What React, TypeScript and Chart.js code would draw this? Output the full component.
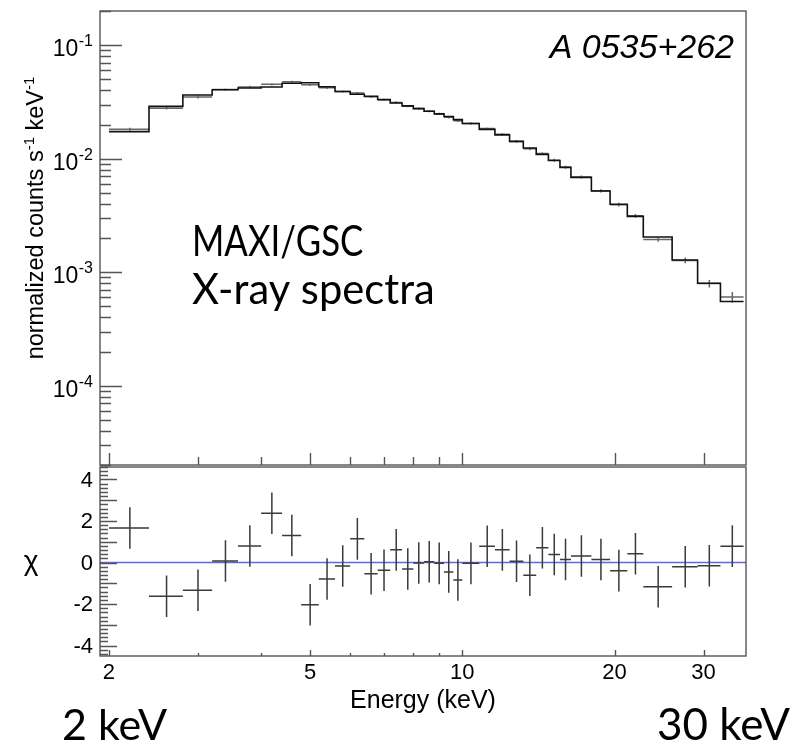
import React, { useEffect, useRef } from "react";
import { Chart, registerables } from "chart.js";
Chart.register(...registerables);

const W = 796;
const H = 748;

// Energy bin edges (keV)
const binEdges = [
  2.0, 2.4, 2.8, 3.2, 3.6, 4.0, 4.4, 4.8, 5.2, 5.6,
  6.0, 6.4, 6.8, 7.2, 7.6, 8.0, 8.4, 8.8, 9.2, 9.6,
  10.0, 10.8, 11.6, 12.4, 13.2, 14.0, 14.8, 15.6, 16.4, 18.0,
  19.6, 21.2, 22.8, 26.0, 29.2, 32.4, 36.0,
];

// Model (folded) counts per bin, normalized counts s^-1 keV^-1
const modelCounts = [
  0.0173, 0.0289, 0.0364, 0.0405, 0.0420, 0.0428, 0.0462, 0.0466, 0.0430, 0.0391,
  0.0369, 0.0355, 0.0332, 0.0309, 0.0292, 0.0276, 0.0262, 0.0248, 0.0235, 0.0221,
  0.0204, 0.0181, 0.0162, 0.0142, 0.0124, 0.0109, 0.00963, 0.00838, 0.00684, 0.00519,
  0.00397, 0.00310, 0.00204, 0.00128, 0.000798, 0.000552,
];

// Observed counts per bin
const dataCounts = [
  0.0182, 0.0278, 0.0350, 0.0406, 0.0428, 0.0452, 0.0475, 0.0447, 0.0422, 0.0390,
  0.0378, 0.0351, 0.0329, 0.0313, 0.0290, 0.0276, 0.0262, 0.0248, 0.0232, 0.0216,
  0.0204, 0.0184, 0.0164, 0.0142, 0.0122, 0.0111, 0.00970, 0.00840, 0.00690, 0.00521,
  0.00393, 0.00314, 0.00194, 0.00127, 0.000794, 0.000604,
];

const dataErrors = [
  0.00054, 0.00070, 0.00105, 0.00100, 0.00100, 0.00100, 0.00100, 0.00095, 0.00100, 0.00090,
  0.00085, 0.00080, 0.00075, 0.00070, 0.00068, 0.00064, 0.00062, 0.00060, 0.00058, 0.00056,
  0.00050, 0.00046, 0.00042, 0.00038, 0.00034, 0.00031, 0.00029, 0.00026, 0.00020, 0.00017,
  0.00015, 0.00012, 0.000085, 0.000070, 0.000060, 0.000066,
];

// Residuals (chi)
const chiValues = [
  1.66, -1.62, -1.33, 0.07, 0.80, 2.37, 1.30, -2.03, -0.79, -0.17,
  1.14, -0.54, -0.37, 0.61, -0.31, -0.02, 0.04, -0.04, -0.45, -0.84,
  -0.04, 0.78, 0.61, 0.06, -0.61, 0.71, 0.39, 0.15, 0.31, 0.15,
  -0.39, 0.42, -1.17, -0.20, -0.15, 0.79,
];
const chiErrors = [
  1, 1, 1, 1, 1, 1, 1, 1, 1, 1,
  1, 1, 1, 1, 1, 1, 1, 1, 1, 1,
  1, 1, 1, 1, 1, 1, 1, 1, 1, 1,
  1, 1, 1, 1, 1, 1,
];

const energyTicks = [2, 3, 4, 5, 6, 7, 8, 9, 10, 20, 30];
const energyLabelValues = [2, 5, 10, 20, 30];
const energyLabels = ["2", "5", "10", "20", "30"];
const countDecades = [1e-4, 1e-3, 1e-2, 1e-1];
const countDecadeExps = ["-4", "-3", "-2", "-1"];
const chiLabelValues = [4, 2, 0, -2, -4];
const chiLabels = ["4", "2", "0", "-2", "-4"];

const xMin = 1.92;
const xMax = 36.4;
const yTopMin = 2e-5;
const yTopMax = 0.2;
const chiMin = -4.5;
const chiMax = 4.6;

const AXFONT = '"Liberation Sans", Arial, Helvetica, sans-serif';
const BIGFONT = 'Lato, "Open Sans", sans-serif';
const FRAME = "#555";

function drawCrosses(ctx: CanvasRenderingContext2D, xs: any, ys: any, vals: number[], errs: number[]) {
  for (let i = 0; i < vals.length; i++) {
    const x1 = xs.getPixelForValue(binEdges[i]);
    const x2 = xs.getPixelForValue(binEdges[i + 1]);
    const xc = xs.getPixelForValue((binEdges[i] + binEdges[i + 1]) / 2);
    const yc = ys.getPixelForValue(vals[i]);
    const yl = ys.getPixelForValue(vals[i] - errs[i]);
    const yh = ys.getPixelForValue(vals[i] + errs[i]);
    ctx.beginPath();
    ctx.moveTo(x1, yc);
    ctx.lineTo(x2, yc);
    ctx.moveTo(xc, yl);
    ctx.lineTo(xc, yh);
    ctx.stroke();
  }
}

function fillScaledText(ctx: CanvasRenderingContext2D, text: string, x: number, y: number, sx: number) {
  ctx.save();
  ctx.translate(x, y);
  ctx.scale(sx, 1);
  ctx.fillText(text, 0, 0);
  ctx.restore();
}

const topPlugin = {
  id: "topDeco",
  beforeDatasetsDraw(chart: any) {
    const { ctx, chartArea: a, scales } = chart;
    ctx.save();
    ctx.beginPath();
    ctx.rect(a.left, a.top, a.right - a.left, a.bottom - a.top);
    ctx.clip();
    ctx.strokeStyle = "#666";
    ctx.lineWidth = 1.5;
    drawCrosses(ctx, scales.x, scales.y, dataCounts, dataErrors);
    ctx.restore();
  },
  afterDraw(chart: any) {
    const { ctx, chartArea: a, scales } = chart;
    const xs = scales.x;
    const ys = scales.y;
    ctx.save();
    // frame
    ctx.strokeStyle = FRAME;
    ctx.lineWidth = 1.4;
    ctx.strokeRect(a.left, a.top, a.right - a.left, a.bottom - a.top);
    // y ticks (log)
    ctx.beginPath();
    for (let d = 1e-5; d < 1; d *= 10) {
      for (let m = 1; m <= 9; m++) {
        const v = m * d;
        if (v < yTopMin || v > yTopMax) continue;
        const y = Math.round(ys.getPixelForValue(v)) + 0.5;
        const len = m === 1 ? 22 : 11;
        ctx.moveTo(a.left, y);
        ctx.lineTo(a.left + len, y);
      }
    }
    // x ticks at bottom of top panel
    for (const e of energyTicks) {
      const x = Math.round(xs.getPixelForValue(e)) + 0.5;
      const len = energyLabelValues.includes(e) ? 12 : 8;
      ctx.moveTo(x, a.bottom);
      ctx.lineTo(x, a.bottom - len);
    }
    ctx.stroke();

    // y tick labels 10^n
    ctx.fillStyle = "#000";
    ctx.textBaseline = "alphabetic";
    countDecades.forEach((v, i) => {
      const y = ys.getPixelForValue(v);
      ctx.font = `16px ${AXFONT}`;
      ctx.textAlign = "right";
      const sw = ctx.measureText(countDecadeExps[i]).width;
      ctx.fillText(countDecadeExps[i], 93, y + 1);
      ctx.font = `23px ${AXFONT}`;
      ctx.fillText("10", 93 - sw - 0.5, y + 11);
    });

    // y title with superscripts
    ctx.save();
    ctx.translate(43, 218);
    ctx.rotate(-Math.PI / 2);
    const parts: [string, number, number][] = [
      ["normalized counts s", 23.5, 0],
      ["-1", 15, -9],
      [" keV", 23.5, 0],
      ["-1", 15, -9],
    ];
    let total = 0;
    for (const p of parts) {
      ctx.font = `${p[1]}px ${AXFONT}`;
      total += ctx.measureText(p[0]).width;
    }
    let cx = -total / 2;
    ctx.textAlign = "left";
    for (const p of parts) {
      ctx.font = `${p[1]}px ${AXFONT}`;
      ctx.fillText(p[0], cx, p[2]);
      cx += ctx.measureText(p[0]).width;
    }
    ctx.restore();

    // source name
    ctx.font = `italic 34px ${AXFONT}`;
    ctx.textAlign = "right";
    ctx.fillText("A 0535+262", 734, 58);

    // overlay annotations
    ctx.font = `43px ${BIGFONT}`;
    ctx.textAlign = "left";
    fillScaledText(ctx, "MAXI/GSC", 192, 256, 0.81);
    fillScaledText(ctx, "X-ray spectra", 192, 304, 0.97);
    ctx.fillText("2 keV", 62, 740);
    ctx.textAlign = "right";
    ctx.font = `44px ${BIGFONT}`;
    ctx.fillText("30 keV", 790, 740);
    ctx.restore();
  },
};

const botPlugin = {
  id: "botDeco",
  afterDatasetsDraw(chart: any) {
    const { ctx, chartArea: a, scales } = chart;
    ctx.save();
    ctx.beginPath();
    ctx.rect(a.left, a.top, a.right - a.left, a.bottom - a.top);
    ctx.clip();
    ctx.strokeStyle = "#3a3a3a";
    ctx.lineWidth = 1.5;
    drawCrosses(ctx, scales.x, scales.y, chiValues, chiErrors);
    ctx.restore();
  },
  afterDraw(chart: any) {
    const { ctx, chartArea: a, scales } = chart;
    const xs = scales.x;
    const ys = scales.y;
    ctx.save();
    ctx.strokeStyle = FRAME;
    ctx.lineWidth = 1.4;
    ctx.strokeRect(a.left, a.top, a.right - a.left, a.bottom - a.top);
    ctx.beginPath();
    for (let j = -25; j <= 25; j++) {
      const v = j / 5;
      if (v < chiMin || v > chiMax) continue;
      const y = Math.round(ys.getPixelForValue(v)) + 0.5;
      const len = j % 5 === 0 ? 17 : 8;
      ctx.moveTo(a.left, y);
      ctx.lineTo(a.left + len, y);
    }
    for (const e of energyTicks) {
      const x = Math.round(xs.getPixelForValue(e)) + 0.5;
      const len = energyLabelValues.includes(e) ? 6 : 3;
      ctx.moveTo(x, a.bottom);
      ctx.lineTo(x, a.bottom - len);
    }
    ctx.stroke();

    ctx.fillStyle = "#000";
    ctx.font = `22px ${AXFONT}`;
    ctx.textAlign = "right";
    ctx.textBaseline = "middle";
    chiLabelValues.forEach((v, i) => {
      ctx.fillText(chiLabels[i], 93, ys.getPixelForValue(v) + 1);
    });
    ctx.textAlign = "center";
    energyLabelValues.forEach((v, i) => {
      ctx.fillText(energyLabels[i], xs.getPixelForValue(v), 673);
    });
    ctx.font = `25px ${AXFONT}`;
    ctx.fillText("Energy (keV)", (a.left + a.right) / 2, 701);
    ctx.font = `28px ${AXFONT}`;
    ctx.fillText("\u03c7", 31, 562);
    ctx.restore();
  },
};

export default function App() {
  const topRef = useRef<HTMLCanvasElement>(null);
  const botRef = useRef<HTMLCanvasElement>(null);

  useEffect(() => {
    const stepPoints = binEdges.map((e, i) => ({
      x: e,
      y: modelCounts[Math.min(i, modelCounts.length - 1)],
    }));
    const top = new Chart(topRef.current as HTMLCanvasElement, {
      type: "line",
      data: {
        datasets: [
          {
            data: stepPoints,
            stepped: true,
            borderColor: "#111",
            borderWidth: 1.6,
            pointRadius: 0,
            fill: false,
          } as any,
        ],
      },
      options: {
        responsive: false,
        animation: false,
        devicePixelRatio: 1,
        events: [],
        layout: { padding: { left: 100, top: 11, right: W - 746, bottom: H - 465 } },
        plugins: { legend: { display: false }, tooltip: { enabled: false }, title: { display: false } },
        scales: {
          x: { type: "logarithmic", min: xMin, max: xMax, display: false, bounds: "data" },
          y: { type: "logarithmic", min: yTopMin, max: yTopMax, display: false, bounds: "data" },
        },
      } as any,
      plugins: [topPlugin],
    });

    const bot = new Chart(botRef.current as HTMLCanvasElement, {
      type: "line",
      data: {
        datasets: [
          {
            data: [
              { x: xMin, y: 0 },
              { x: xMax, y: 0 },
            ],
            borderColor: "#6464e6",
            borderWidth: 1.5,
            pointRadius: 0,
            fill: false,
          } as any,
        ],
      },
      options: {
        responsive: false,
        animation: false,
        devicePixelRatio: 1,
        events: [],
        layout: { padding: { left: 100, top: 467, right: W - 746, bottom: H - 656 } },
        plugins: { legend: { display: false }, tooltip: { enabled: false }, title: { display: false } },
        scales: {
          x: { type: "logarithmic", min: xMin, max: xMax, display: false, bounds: "data" },
          y: { type: "linear", min: chiMin, max: chiMax, display: false, bounds: "data" },
        },
      } as any,
      plugins: [botPlugin],
    });

    return () => {
      top.destroy();
      bot.destroy();
    };
  }, []);

  const cstyle: React.CSSProperties = { position: "absolute", left: 0, top: 0, width: W, height: H };
  return (
    <div style={{ position: "fixed", left: 0, top: 0, width: W, height: H, background: "#fff" }}>
      <canvas ref={topRef} width={W} height={H} style={cstyle} />
      <canvas ref={botRef} width={W} height={H} style={cstyle} />
    </div>
  );
}
